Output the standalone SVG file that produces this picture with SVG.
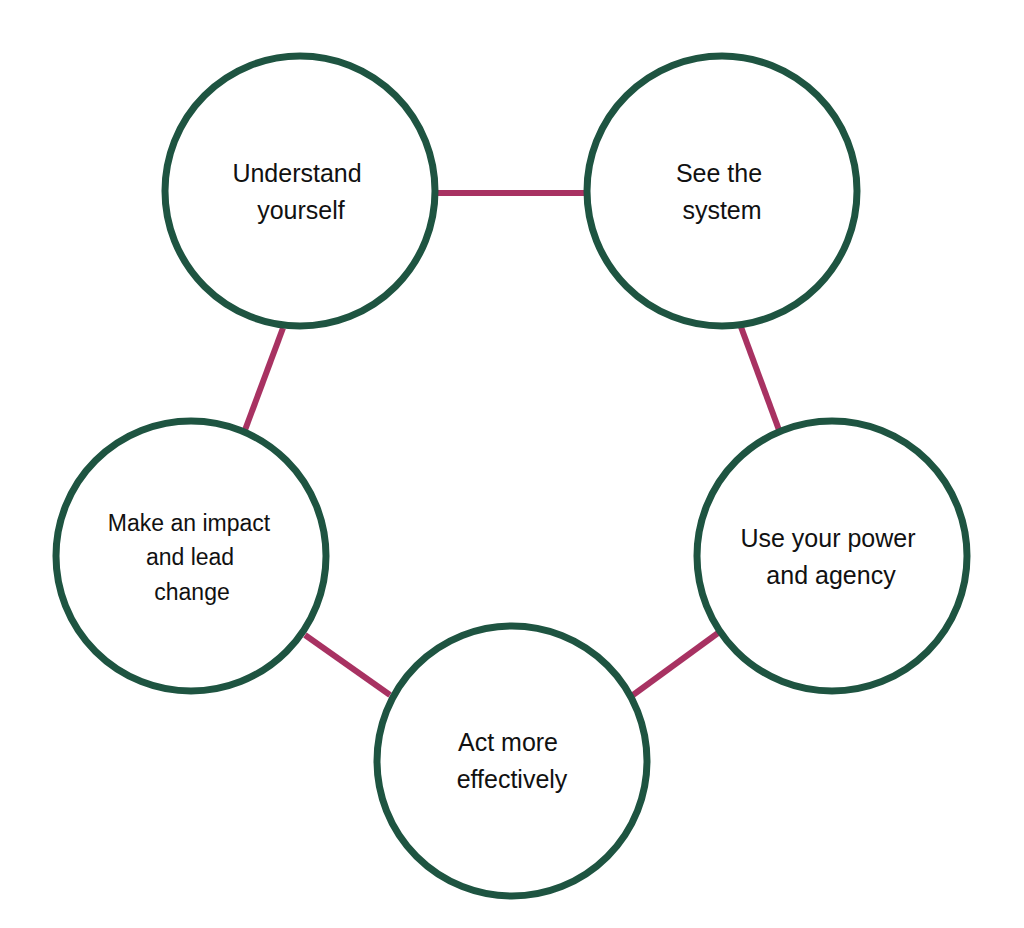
<svg xmlns="http://www.w3.org/2000/svg" width="1024" height="928" viewBox="0 0 1024 928">
<style>
.n{fill:#fff;stroke:#1e5441;stroke-width:7}
.c{stroke:#a83262;stroke-width:6;fill:none}
text{font-family:"Liberation Sans",Arial,sans-serif;font-size:25px;fill:#111;text-anchor:middle}
</style>
<rect width="1024" height="928" fill="#fff"/>
<g id="connectors">
<line class="c" x1="436" y1="193" x2="587" y2="193"/>
<line class="c" x1="741" y1="327" x2="779" y2="430"/>
<line class="c" x1="718" y1="633" x2="633" y2="695"/>
<line class="c" x1="390" y1="695" x2="305" y2="635"/>
<line class="c" x1="245" y1="430" x2="283" y2="328"/>
</g>
<g id="understand"><circle class="n" cx="300" cy="191" r="135"/><text x="297" y="182">Understand</text><text x="301" y="219">yourself</text></g>
<g id="see"><circle class="n" cx="722" cy="191" r="135"/><text x="719" y="182">See the</text><text x="722" y="219">system</text></g>
<g id="use"><circle class="n" cx="832" cy="556" r="135"/><text x="828" y="547">Use your power</text><text x="831" y="584">and agency</text></g>
<g id="act"><circle class="n" cx="512" cy="761" r="135"/><text x="508" y="751">Act more</text><text x="512" y="788">effectively</text></g>
<g id="make"><circle class="n" cx="191" cy="556" r="135"/><text x="189" y="531" style="font-size:23px">Make an impact</text><text x="190" y="565" style="font-size:23px">and lead</text><text x="192" y="600" style="font-size:23px">change</text></g>
</svg>
